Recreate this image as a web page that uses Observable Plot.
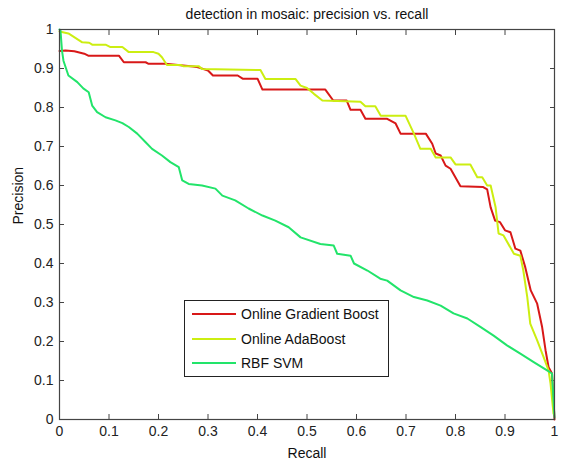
<!DOCTYPE html>
<html><head><meta charset="utf-8">
<script src="https://cdn.jsdelivr.net/npm/d3@7"></script>
<script src="https://cdn.jsdelivr.net/npm/@observablehq/plot@0.6"></script>
<style>
body{margin:0;background:#fff;font-family:"Liberation Sans",Arial,sans-serif;}
#wrap{position:relative;width:562px;height:466px;}
#legend{position:absolute;left:184px;top:300px;width:203px;height:75px;border:1px solid #222;background:#fff;font-size:14px;color:#111;}
.row{position:absolute;left:7px;height:16px;display:flex;align-items:center;}
.sw{width:44px;height:2px;margin-right:5px;}
</style></head>
<body><div id="wrap"><div id="chart"></div><div id="legend"></div></div>
<script>
const title = "detection in mosaic: precision vs. recall";
const xLabel = "Recall";
const yLabel = "Precision";
const tickValues = [0,0.1,0.2,0.3,0.4,0.5,0.6,0.7,0.8,0.9,1];
const seriesNames = ["Online Gradient Boost","Online AdaBoost","RBF SVM"];
const seriesColors = ["#d81818","#ccee11","#22e46a"];

const gbRecall = [0,0.012,0.03,0.05,0.058,0.12,0.13,0.174,0.18,0.214,0.27,0.28,0.30,0.31,0.36,0.37,0.40,0.41,0.537,0.553,0.58,0.588,0.608,0.618,0.662,0.679,0.689,0.74,0.753,0.76,0.77,0.78,0.79,0.81,0.856,0.864,0.871,0.88,0.89,0.90,0.911,0.921,0.931,0.941,0.952,0.965,0.975,0.982,0.988,0.995,1.0];
const gbPrecision = [0.945,0.946,0.944,0.938,0.933,0.933,0.916,0.916,0.912,0.912,0.905,0.903,0.895,0.882,0.882,0.874,0.874,0.846,0.846,0.818,0.818,0.794,0.794,0.771,0.771,0.759,0.733,0.733,0.707,0.682,0.677,0.651,0.643,0.598,0.596,0.59,0.544,0.51,0.506,0.485,0.48,0.438,0.433,0.39,0.331,0.297,0.237,0.177,0.134,0.118,0.0];

const abRecall = [0,0.018,0.046,0.06,0.066,0.093,0.103,0.127,0.14,0.19,0.2,0.207,0.217,0.245,0.25,0.281,0.288,0.406,0.416,0.477,0.487,0.5,0.514,0.531,0.608,0.618,0.638,0.649,0.699,0.716,0.729,0.75,0.76,0.79,0.8,0.83,0.844,0.854,0.864,0.871,0.881,0.887,0.897,0.918,0.931,0.937,0.945,0.951,0.965,0.978,0.988,0.992,0.998];
const abPrecision = [0.995,0.99,0.967,0.966,0.961,0.961,0.955,0.955,0.942,0.942,0.938,0.929,0.909,0.909,0.906,0.906,0.899,0.896,0.873,0.873,0.856,0.85,0.835,0.818,0.815,0.803,0.803,0.779,0.779,0.733,0.694,0.694,0.672,0.672,0.654,0.654,0.621,0.621,0.6,0.6,0.544,0.477,0.472,0.425,0.42,0.382,0.314,0.246,0.203,0.16,0.126,0.092,0.015];

const svmRecall = [0,0.002,0.005,0.008,0.018,0.036,0.048,0.059,0.066,0.076,0.093,0.113,0.127,0.14,0.157,0.174,0.187,0.207,0.224,0.241,0.248,0.261,0.288,0.315,0.329,0.355,0.382,0.41,0.436,0.463,0.487,0.527,0.554,0.561,0.588,0.595,0.622,0.648,0.662,0.689,0.716,0.743,0.77,0.796,0.824,0.851,0.877,0.904,0.931,0.958,0.985,0.995,1.0];
const svmPrecision = [1.0,0.997,0.946,0.92,0.882,0.865,0.849,0.839,0.805,0.788,0.775,0.767,0.76,0.75,0.733,0.711,0.694,0.677,0.66,0.647,0.613,0.604,0.6,0.592,0.574,0.562,0.541,0.523,0.51,0.493,0.467,0.45,0.446,0.425,0.42,0.4,0.382,0.361,0.356,0.331,0.314,0.305,0.292,0.272,0.259,0.237,0.215,0.19,0.169,0.147,0.126,0.118,0.005];

const toRows = (rs, ps, name) => rs.map((r,i) => ({recall:r, precision:ps[i], name}));
const rows = [
  ...toRows(gbRecall, gbPrecision, seriesNames[0]),
  ...toRows(abRecall, abPrecision, seriesNames[1]),
  ...toRows(svmRecall, svmPrecision, seriesNames[2])
];
const fmt = d => String(d);
const axisColor = "#444";

const chart = Plot.plot({
  width: 562, height: 466,
  marginLeft: 59, marginRight: 8, marginTop: 29, marginBottom: 47,
  style: {fontFamily: '"Liberation Sans", Arial, sans-serif', fontSize: "14px", color: "#222", background: "#fff"},
  x: {domain: [0,1]},
  y: {domain: [0,1]},
  color: {domain: seriesNames, range: seriesColors},
  marks: [
    Plot.axisX({anchor:"bottom", ticks: tickValues, tickFormat: fmt, tickSize: -5, tickPadding: 12, stroke: axisColor, label: null, fontSize: 14}),
    Plot.axisX({anchor:"top", ticks: tickValues, tickFormat: () => "", tickSize: -5, stroke: axisColor, label: null}),
    Plot.axisY({anchor:"left", ticks: tickValues, tickFormat: fmt, tickSize: -5, tickPadding: 11, stroke: axisColor, label: null, fontSize: 14}),
    Plot.axisY({anchor:"right", ticks: tickValues, tickFormat: () => "", tickSize: -5, stroke: axisColor, label: null}),
    Plot.line(rows, {x: "recall", y: "precision", z: "name", stroke: "name", strokeWidth: 2}),
    Plot.frame({stroke: axisColor, strokeWidth: 1.2}),
    Plot.text([title], {frameAnchor: "top", dy: -20, text: d => d, fontSize: 14, fill: "#111"}),
    Plot.text([xLabel], {frameAnchor: "bottom", dy: 38, text: d => d, fontSize: 14, fill: "#111"}),
    Plot.text([yLabel], {frameAnchor: "left", dx: -41, rotate: -90, text: d => d, fontSize: 14, fill: "#111"})
  ]
});
document.getElementById("chart").appendChild(chart);

const legend = document.getElementById("legend");
seriesNames.forEach((n,i) => {
  const row = document.createElement("div");
  row.className = "row";
  row.style.top = (5 + i*24.5) + "px";
  const sw = document.createElement("div");
  sw.className = "sw"; sw.style.background = seriesColors[i];
  const t = document.createElement("span"); t.textContent = n;
  row.appendChild(sw); row.appendChild(t);
  legend.appendChild(row);
});
</script></body></html>
